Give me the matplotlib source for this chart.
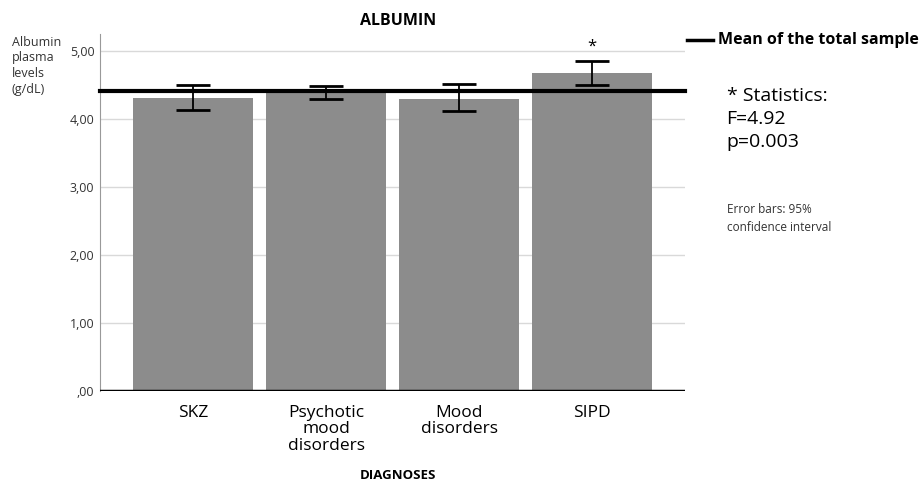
import numpy as np
import matplotlib.pyplot as plt

plt.rcParams['font.family'] = ['Open Sans', 'DejaVu Sans']

# groups and mean albumin with 95% CI
groups = ["SKZ", "Psychotic\nmood\ndisorders", "Mood\ndisorders", "SIPD"]
means = [4.31, 4.41, 4.30, 4.68]
ci_low = [4.13, 4.29, 4.11, 4.50]
ci_high = [4.50, 4.49, 4.51, 4.85]
total_mean = 4.41
yticks = [0, 1, 2, 3, 4, 5]
ytick_labels = [",00", "1,00", "2,00", "3,00", "4,00", "5,00"]

fig = plt.figure(figsize=(9.22, 4.8), dpi=100)
ax = fig.add_axes([0.1085, 0.1854, 0.6345, 0.744])

x = np.arange(len(groups))
err = [np.array(means) - np.array(ci_low), np.array(ci_high) - np.array(means)]
ax.bar(x, means, width=0.9, color="#8c8c8c", zorder=2)
ax.errorbar(x, means, yerr=err, fmt="none", ecolor="black", elinewidth=1.3,
            capsize=12, capthick=2, zorder=4)
ax.axhline(total_mean, color="black", lw=3, zorder=3, clip_on=False)
ax.axhline(0, color="black", lw=2.5, zorder=3)

ax.set_xlim(-0.7, 3.7)
ax.set_ylim(0, 5.25)
ax.set_yticks(yticks)
ax.set_yticklabels(ytick_labels, fontsize=9, color="#333333")
ax.set_xticks(x)
ax.set_xticklabels(groups, fontsize=12.5, linespacing=1.05, va="top")
ax.tick_params(axis="both", length=0, pad=4)
ax.tick_params(axis="x", pad=10)
ax.grid(axis="y", color="#d9d9d9", lw=1, zorder=0)
for s in ["top", "right", "bottom"]:
    ax.spines[s].set_visible(False)
ax.spines["left"].set_color("#999999")

ax.text(3, ci_high[3] + 0.1, "*", ha="center", va="bottom", fontsize=12)

fig.text(0.432, 0.957, "ALBUMIN", ha="center", va="center", fontsize=11.5, fontweight="bold")
fig.text(0.432, 0.01, "DIAGNOSES", ha="center", va="center", fontsize=9.5,
         fontweight="bold")
fig.text(0.013, 0.925, "Albumin\nplasma\nlevels\n(g/dL)", ha="left", va="top", fontsize=9,
         linespacing=1.25, color="#333333")

# legend-like annotations at right
fig.lines.append(plt.Line2D([0.745, 0.773], [0.917, 0.917], transform=fig.transFigure,
                            color="black", lw=2.5))
fig.text(0.779, 0.917, "Mean of the total sample", ha="left", va="center",
         fontsize=11.5, fontweight="bold")
fig.text(0.788, 0.752, "* Statistics:\nF=4.92\np=0.003", ha="left", va="center",
         fontsize=14, linespacing=1.35)
fig.text(0.788, 0.545, "Error bars: 95%\nconfidence interval", ha="left", va="center",
         fontsize=8.5, linespacing=1.45, color="#333333")

fig.savefig("out.png", dpi=100)
